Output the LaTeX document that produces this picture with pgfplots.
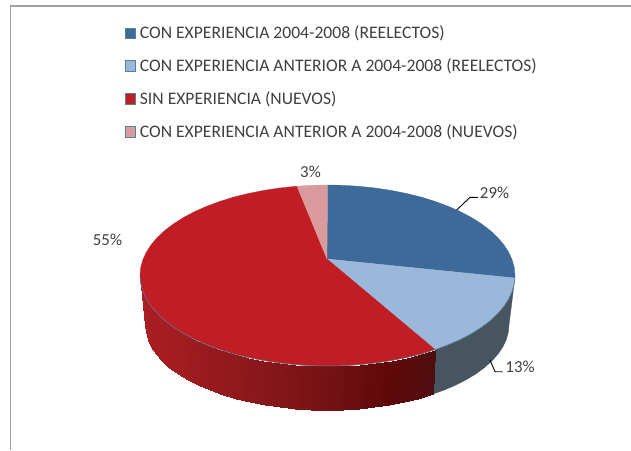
\documentclass[border=0pt]{standalone}
\usepackage{fontspec}
\setmainfont{Carlito}
\usepackage{pgfplots}
\usepackage{pgfplotstable}
\pgfplotsset{compat=1.18}
\definecolor{cblue}{RGB}{61,106,152}
\definecolor{clight}{RGB}{155,183,217}
\definecolor{cred}{RGB}{192,30,36}
\definecolor{cpink}{RGB}{217,155,155}
\definecolor{cslate}{RGB}{71,85,96}
\definecolor{crim}{RGB}{84,130,150}
\definecolor{cframe}{RGB}{160,160,160}
\definecolor{ctext}{RGB}{64,64,64}
% side of the red slice: x y m (top rim / bottom rim pairs)
\pgfplotstableread{
x y m
435.1 349.6 435
433 394 435
421.3 353.9 420
418 398.6 420
406.7 357.5 405
403.9 402 405
391.6 360.5 390
389.2 404.9 390
376 362.9 375
374.1 407.1 375
360.1 364.6 360
358.6 408.7 360
343.8 365.7 345
342.9 409.7 345
327.5 366 328
327 410 328
311.2 365.7 311
311.1 409.7 311
294.9 364.6 295
295.4 408.7 295
279 362.9 279
279.9 407.1 279
263.4 360.5 264
264.8 404.9 264
248.3 357.5 249
250.1 402 249
233.7 353.9 235
236 398.6 235
219.9 349.6 221
222.6 394.6 221
207 344.8 208
210 390.1 208
194.9 339.5 197
198.3 385.1 197
183.9 333.7 186
187.6 379.6 186
173.9 327.4 176
177.9 373.8 176
165.1 320.8 167
169.4 367.5 167
157.6 313.7 160
162.1 360.9 160
151.3 306.5 154
156 354.1 154
146.4 298.9 149
151.2 347 149
142.9 291.2 145
147.8 339.8 145
140.7 283.4 143
145.7 332.4 143
140 275.5 140
145 325 140
}\redside
\newcommand{\legsq}[1]{\path[draw=none,fill=none] (0pt,0pt) -- (15pt,0pt);\draw[fill=#1,draw=crim,line width=.8pt] (0pt,-5.2pt) rectangle (10.8pt,5.2pt);}
\begin{document}
\begin{tikzpicture}
\useasboundingbox (0,0) rectangle (631pt,450pt);
\begin{axis}[
  at={(0,0)},anchor=south west,
  width=631pt,height=450pt,scale only axis,hide axis,
  xmin=0,xmax=631,ymin=0,ymax=450,y dir=reverse,
  clip=false,
  colormap={redside}{rgb255(0pt)=(172,30,35); rgb255(110pt)=(140,24,28); rgb255(190pt)=(115,18,20); rgb255(250pt)=(95,8,8); rgb255(295pt)=(78,14,16)},
  point meta min=140,point meta max=435,
  legend style={at={(axis cs:124.5,26)},anchor=north west,draw=none,fill=none,
    font=\fontsize{17.6}{21}\selectfont,text=ctext,row sep=18.5pt,inner sep=0pt,outer sep=0pt,
    nodes={inner sep=0pt}},
  legend cell align=left,
]
% frame
\addplot[forget plot,cframe,line width=1.6pt,no markers] coordinates {(631,5.7) (10.5,5.7) (10.5,450)};
% slate side
\addplot[forget plot,fill=cslate,draw=cslate,line width=.3pt,no markers] coordinates {
(514.9,278)(514.3,283.4)(512.1,291.2)(508.6,298.9)(503.7,306.5)(497.4,313.7)(489.9,320.8)(481.1,327.4)(471.1,333.7)(460.1,339.5)(448,344.8)(435.1,349.6)
(433,394)(444,390.1)(455.7,385.1)(466.4,379.6)(476.1,373.8)(484.6,367.5)(491.9,360.9)(498,354.1)(502.8,347)(506.2,339.8)(508.3,332.4)(509,325)} -- cycle;
% red side
\addplot[forget plot,surf,shader=interp,mesh/rows=26,mesh/cols=2,point meta=explicit] table[x=x,y=y,meta=m] {\redside};
% blue
\addplot[forget plot,fill=cblue,draw=cblue,line width=.3pt,no markers] coordinates {
(327,259)(327.5,185)(343.8,185.3)(360.1,186.4)(376,188.1)(391.6,190.5)(406.7,193.5)(421.3,197.1)(435.1,201.4)(448,206.2)(460.1,211.5)(471.1,217.3)(481.1,223.6)(489.9,230.2)(497.4,237.3)(503.7,244.5)(508.6,252.1)(512.1,259.8)(514.3,267.6)(515,275.5)(514.9,278)} -- cycle;
% light blue
\addplot[forget plot,fill=clight,draw=clight,line width=.3pt,no markers] coordinates {
(327,259)(514.9,278)(514.3,283.4)(512.1,291.2)(508.6,298.9)(503.7,306.5)(497.4,313.7)(489.9,320.8)(481.1,327.4)(471.1,333.7)(460.1,339.5)(448,344.8)(435.1,349.6)} -- cycle;
% red
\addplot[forget plot,fill=cred,draw=cred,line width=.3pt,no markers] coordinates {
(327,259)(435.1,349.6)(421.3,353.9)(406.7,357.5)(391.6,360.5)(376,362.9)(360.1,364.6)(343.8,365.7)(327.5,366)(311.2,365.7)(294.9,364.6)(279,362.9)(263.4,360.5)(248.3,357.5)(233.7,353.9)(219.9,349.6)(207,344.8)(194.9,339.5)(183.9,333.7)(173.9,327.4)(165.1,320.8)(157.6,313.7)(151.3,306.5)(146.4,298.9)(142.9,291.2)(140.7,283.4)(140,275.5)(140.7,267.6)(142.9,259.8)(146.4,252.1)(151.3,244.5)(157.6,237.3)(165.1,230.2)(173.9,223.6)(183.9,217.3)(194.9,211.5)(207,206.2)(219.9,201.4)(233.7,197.1)(248.3,193.5)(263.4,190.5)(279,188.1)(294.9,186.4)(297,186.2)} -- cycle;
% pink
\addplot[forget plot,fill=cpink,draw=cpink,line width=.3pt,no markers] coordinates {
(327,259)(297,186.2)(311.2,185.3)(327.5,185)} -- cycle;
% rim of the top face, above the side
\addplot[forget plot,crim,line width=.5pt,no markers] coordinates {
(515,275.5)(514.9,278)(514.3,283.4)(512.1,291.2)(508.6,298.9)(503.7,306.5)(497.4,313.7)(489.9,320.8)(481.1,327.4)(471.1,333.7)(460.1,339.5)(448,344.8)(435.1,349.6)(421.3,353.9)(406.7,357.5)(391.6,360.5)(376,362.9)(360.1,364.6)(343.8,365.7)(327.5,366)(311.2,365.7)(294.9,364.6)(279,362.9)(263.4,360.5)(248.3,357.5)(233.7,353.9)(219.9,349.6)(207,344.8)(194.9,339.5)(183.9,333.7)(173.9,327.4)(165.1,320.8)(157.6,313.7)(151.3,306.5)(146.4,298.9)(142.9,291.2)(140.7,283.4)(140,275.5)};
% leader lines
\addplot[forget plot,black,line width=.9pt,no markers] coordinates {(456.7,210)(470,197.3)(478,197.3)};
\addplot[forget plot,black,line width=.9pt,no markers] coordinates {(490,360)(495,371.7)(502.7,371.7)};
% legend
\addlegendimage{legend image code/.code={\legsq{cblue}}}
\addlegendentry{CON EXPERIENCIA 2004-2008 (REELECTOS)}
\addlegendimage{legend image code/.code={\legsq{clight}}}
\addlegendentry{CON EXPERIENCIA ANTERIOR A 2004-2008 (REELECTOS)}
\addlegendimage{legend image code/.code={\legsq{cred}}}
\addlegendentry{SIN EXPERIENCIA (NUEVOS)}
\addlegendimage{legend image code/.code={\legsq{cpink}}}
\addlegendentry{CON EXPERIENCIA ANTERIOR A 2004-2008 (NUEVOS)}
% data labels
\node[text=ctext,font=\fontsize{16.8}{19}\selectfont] at (axis cs:494.5,193) {29\%};
\node[text=ctext,font=\fontsize{16.8}{19}\selectfont] at (axis cs:520,367) {13\%};
\node[text=ctext,font=\fontsize{16.8}{19}\selectfont] at (axis cs:310.5,172) {3\%};
\node[text=ctext,font=\fontsize{16.8}{19}\selectfont] at (axis cs:107.5,240) {55\%};
\end{axis}
\end{tikzpicture}
\end{document}
